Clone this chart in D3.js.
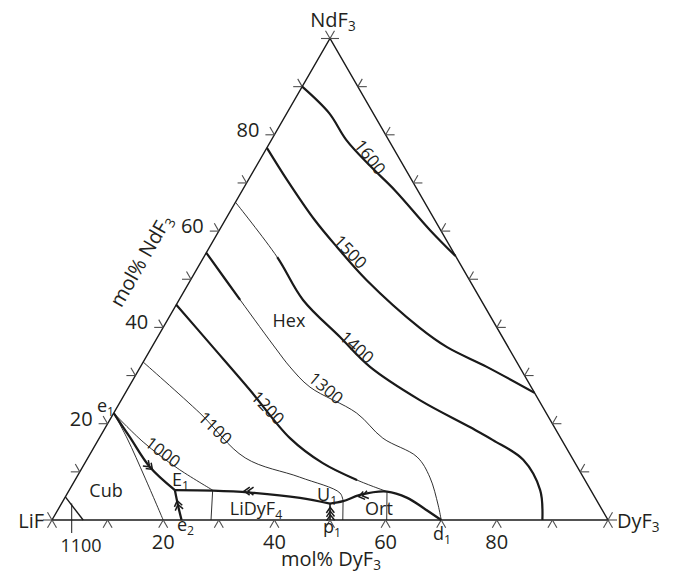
<!DOCTYPE html>
<html>
<head>
<meta charset="utf-8">
<script src="https://cdn.jsdelivr.net/npm/d3@7"></script>
<style>
  body { margin: 0; background: #fff; }
  text { font-family: "Open Sans", "Noto Sans", sans-serif; fill: #231f20; }
</style>
</head>
<body>
<div id="chart"></div>
<script>
// every composition is [mol% DyF3, mol% NdF3]; LiF is the rest
var tickValues = d3.range(0, 101, 10);
var tickLabels = [20, 40, 60, 80];

// isotherms (liquidus temperatures)
var isoNames = ["1600", "1500", "1400", "1300", "1200", "1100", "1000"];
var iso1600 = [[0, 90], [7.6, 84.5], [13.5, 78.9], [20.5, 73.5], [27.4, 68.5], [37.9, 60.2], [45.2, 54.8]];
var iso1500 = [[0, 77.3], [7.0, 70.6], [16.1, 62.3], [22.9, 56.7], [31.7, 49.8], [46.2, 39.9], [53.1, 35.9], [62.3, 31.8], [73.6, 26.4]];
var iso1400 = [[0, 66], [13.2, 54.6], [22.3, 45.7], [32.8, 38.0], [41.3, 31.8], [53.7, 24.9], [65.5, 19.3], [71, 16.6], [78.5, 12.5], [84.7, 6.2], [88.2, 0]];
var iso1300 = [[0, 55.5], [11.0, 45.7], [22.8, 35.3], [26.9, 31.8], [32.6, 27.6], [43.7, 22.2], [51, 17], [59.1, 13.1], [63.5, 8.9], [67.9, 3.1], [70, 0]];
var iso1200 = [[0, 44.7], [11.0, 35.9], [22.1, 27.0], [34.3, 17.0], [42.8, 11.8], [50.7, 8.3], [57.3, 5.9]];
var iso1100 = [[0, 32.8], [15.5, 22.2], [28.3, 12.9], [40.1, 8.9], [49.0, 5.6], [50.4, 3.9]];
var iso1000 = [[0, 22.2], [8.3, 16.2], [17.1, 10.8], [25.8, 6.2]];
var isoLabelAt = [[19.5, 75.4], [25.8, 55.7], [36.9, 35.9], [35.6, 27.4], [27.2, 23.3], [19.8, 19.1], [12.9, 14.1]];
var iso1100Cub = [[0, 4.8], [5.6, 0]];

// univariant lines and invariant points
var e1 = [0, 22.2], e2 = [23.3, 0], E1 = [19.0, 6.2], U1 = [48.3, 3.4], p1 = [50, 0], d1 = [70, 0];
var lineE1e1 = [e1, [5.4, 17.2], [12.1, 11.0], E1];
var lineE1e2 = [E1, [21.1, 3.1], e2];
var lineE1U1 = [E1, [25.9, 6.1], [32.8, 5.7], [42.3, 4.6], U1];
var lineU1d1 = [U1, [50.4, 3.9], [52.8, 5.2], [57.3, 5.9], [61.6, 4.6], [65.9, 2.3], d1];
var lineU1p1 = [U1, p1];
var lineCub = [e1, [5.0, 17.0], [12.4, 8.7], [20, 0]];
var tieLines = [[[25.8, 6.2], [28.6, 0]], [[50.4, 3.9], [52.3, 0]], [[57.3, 5.9], [60.2, 0]]];
var arrowAt = [[12.1, 11.0], [21.0, 3.3], [32.2, 6.0], [49.1, 1.9], [53.3, 5.0]];
var arrowTo = [E1, E1, E1, U1, U1];
var arrowCount = [2, 2, 2, 3, 2];

var svgWidth = 677;
var svgHeight = 575;

var svg = d3.select("#chart")
    .append("svg")
    .attr("width", svgWidth)
    .attr("height", svgHeight);

// ternary -> screen
var xScale = d3.scaleLinear().domain([0, 100]).range([52, 608]);
var yScale = d3.scaleLinear().domain([0, 100]).range([520, 38.5]);
function px(c) { return [xScale(c[0] + c[1] / 2), yScale(c[1])]; }

var smooth = d3.line()
    .x(d => px(d)[0])
    .y(d => px(d)[1])
    .curve(d3.curveCatmullRom.alpha(0.5));
var straight = d3.line()
    .x(d => px(d)[0])
    .y(d => px(d)[1]);

var ink = "#1a1a1a";

// frame
svg.append("path")
    .attr("d", straight([[0, 0], [100, 0], [0, 100]]) + "Z")
    .attr("fill", "none")
    .attr("stroke", ink)
    .attr("stroke-width", 1.4);

// ticks: two short strokes along the grid directions, outside the triangle
var tickLen = 9;
var tickDirs = {
    bottom: [[-0.5, 0.866], [0.5, 0.866]],
    left: [[-1, 0], [-0.5, -0.866]],
    right: [[1, 0], [0.5, -0.866]]
};
function drawTick(p, dirs) {
    dirs.forEach(d => {
        svg.append("line")
            .attr("x1", p[0]).attr("y1", p[1])
            .attr("x2", p[0] + d[0] * tickLen).attr("y2", p[1] + d[1] * tickLen)
            .attr("stroke", "#4d4d4d")
            .attr("stroke-width", 1.1);
    });
}
tickValues.forEach(v => {
    drawTick(px([v, 0]), tickDirs.bottom);
    drawTick(px([0, v]), tickDirs.left);
    drawTick(px([100 - v, v]), tickDirs.right);
});

// tick labels
tickLabels.forEach(v => {
    var b = px([v, 0]);
    svg.append("text")
        .attr("x", b[0]).attr("y", b[1] + 29)
        .attr("text-anchor", "middle")
        .attr("font-size", 20)
        .text(v);
    var l = px([0, v]);
    svg.append("text")
        .attr("x", l[0] - 15).attr("y", l[1] + 2)
        .attr("text-anchor", "end")
        .attr("font-size", 20)
        .text(v);
});

function label(x, y, main, sub, size, anchor) {
    var t = svg.append("text")
        .attr("x", x).attr("y", y)
        .attr("font-size", size)
        .attr("text-anchor", anchor || "start");
    t.append("tspan").text(main);
    if (sub) {
        t.append("tspan")
            .attr("font-size", size * 0.68)
            .attr("dy", size * 0.22)
            .text(sub);
    }
    return t;
}

// curves
var gCurves = svg.append("g").attr("fill", "none").attr("stroke", ink);

function lengthNear(node, p) {
    var total = node.getTotalLength(), best = 0, bestD = Infinity;
    for (var l = 0; l <= total; l += 0.5) {
        var q = node.getPointAtLength(l);
        var dd = (q.x - p[0]) * (q.x - p[0]) + (q.y - p[1]) * (q.y - p[1]);
        if (dd < bestD) { bestD = dd; best = l; }
    }
    return best;
}

// thin full line, with a heavy stretch between two of its points
function drawIso(pts, heavy) {
    var path = gCurves.append("path")
        .attr("d", smooth(pts))
        .attr("stroke-width", 0.9);
    if (!heavy) return;
    var node = path.node();
    var total = node.getTotalLength();
    var a = lengthNear(node, px(pts[heavy[0]]));
    var b = lengthNear(node, px(pts[heavy[1]]));
    gCurves.append("path")
        .attr("d", smooth(pts))
        .attr("stroke-width", 2.2)
        .attr("stroke-dasharray", `0,${a},${b - a},${total}`);
}

var isoData = [iso1600, iso1500, iso1400, iso1300, iso1200, iso1100, iso1000];
var isoHeavy = [[0, 6], [0, 8], [1, 10], [0, 1], [0, 5], null, null];
var isoAngle = [52, 46, 42, 40, 46, 44, 37];

isoData.forEach((pts, i) => drawIso(pts, isoHeavy[i]));

isoNames.forEach((name, i) => {
    var p = px(isoLabelAt[i]);
    svg.append("text")
        .attr("transform", `translate(${p[0]},${p[1]}) rotate(${isoAngle[i]})`)
        .attr("text-anchor", "middle")
        .attr("dy", "0.36em")
        .attr("font-size", 17)
        .text(name);
});

gCurves.append("path").attr("d", straight(iso1100Cub)).attr("stroke-width", 1.4);
gCurves.append("path").attr("d", smooth(lineCub)).attr("stroke-width", 0.9);
tieLines.forEach(t => {
    gCurves.append("path").attr("d", straight(t)).attr("stroke-width", 0.9);
});

[lineE1e1, lineE1e2, lineE1U1, lineU1d1].forEach(l => {
    gCurves.append("path").attr("d", smooth(l)).attr("stroke-width", 2.3);
});
gCurves.append("path").attr("d", straight(lineU1p1)).attr("stroke-width", 1.6);

// leader from the 1100 label to the short isotherm near LiF
var lead = px([1.83, 3.43]);
gCurves.append("line")
    .attr("x1", lead[0]).attr("y1", lead[1])
    .attr("x2", lead[0]).attr("y2", yScale(0) + 13)
    .attr("stroke-width", 1);

// direction arrows along the univariant lines
arrowAt.forEach((c, i) => {
    var p = px(c), q = px(arrowTo[i]);
    var dx = q[0] - p[0], dy = q[1] - p[1];
    var len = Math.sqrt(dx * dx + dy * dy);
    var u = [dx / len, dy / len], n = [-u[1], u[0]];
    for (var k = 0; k < arrowCount[i]; k++) {
        var tip = [p[0] + u[0] * (3.5 - k * 3.8), p[1] + u[1] * (3.5 - k * 3.8)];
        var back = [tip[0] - u[0] * 5.5, tip[1] - u[1] * 5.5];
        gCurves.append("path")
            .attr("d", `M${back[0] + n[0] * 4},${back[1] + n[1] * 4}L${tip[0]},${tip[1]}L${back[0] - n[0] * 4},${back[1] - n[1] * 4}`)
            .attr("stroke-width", 1.5);
    }
});

// vertex and axis titles
label(333, 27, "NdF", "3", 20, "middle");
label(44, 528, "LiF", null, 20, "end");
label(617, 528, "DyF", "3", 20, "start");
label(331, 566, "mol% DyF", "3", 20, "middle");
label(0, 0, "mol% NdF", "3", 20, "middle")
    .attr("transform", "translate(147,264) rotate(-60)");

// fields and invariant points
label(106, 497, "Cub", null, 18, "middle");
label(289, 327, "Hex", null, 18, "middle");
label(379, 515, "Ort", null, 18, "middle");
label(256, 515, "LiDyF", "4", 18, "middle");
label(172, 486, "E", "1", 18);
label(317, 501, "U", "1", 18);
label(97, 412, "e", "1", 18);
label(177, 531, "e", "2", 18);
label(323, 533, "p", "1", 18);
label(433, 540, "d", "1", 18);
label(81, 552, "1100", null, 18, "middle");
</script>
</body>
</html>
